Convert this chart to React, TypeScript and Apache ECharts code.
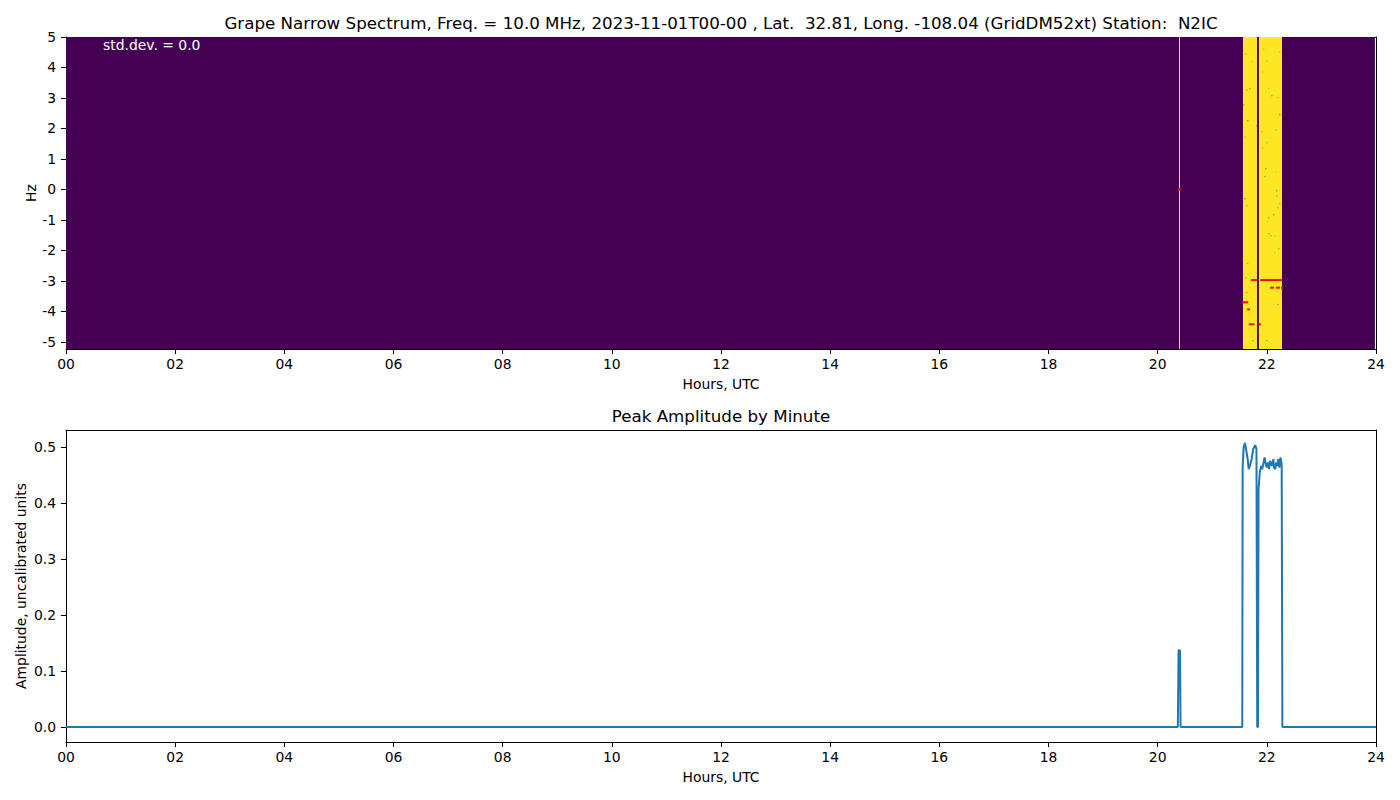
import React, { useEffect, useRef } from "react";
import * as echarts from "echarts";

// ---------- data ----------
const TITLE_TOP =
  "Grape Narrow Spectrum, Freq. = 10.0 MHz, 2023-11-01T00-00 , Lat.  32.81, Long. -108.04 (GridDM52xt) Station:  N2IC";
const TITLE_BOTTOM = "Peak Amplitude by Minute";
const STD_TEXT = "std.dev. = 0.0";

const hourTicks = [0, 2, 4, 6, 8, 10, 12, 14, 16, 18, 20, 22, 24];
const hzTicks = [-5, -4, -3, -2, -1, 0, 1, 2, 3, 4, 5];
const ampTicks = [0.0, 0.1, 0.2, 0.3, 0.4, 0.5];

// spectrogram bands: [startHour, endHour, lowHz, highHz, level]
const specBands: number[][] = [
  [0, 23.98, -5.23, 5, 0],
  [20.391, 20.409, -5.23, 5, 1],
  [21.563, 22.278, -5.23, 5, 1],
  [21.82, 21.855, -5.23, 5, 0],
];

// single-bin speckles: [hour, Hz, level]
const specSpeckles: number[][] = [
  [21.606, 4.44, 0.5], [21.716, 4.2, 0.75], [21.935, 4.61, 0.75], [21.99, 4.21, 0.75],
  [22.228, 4.51, 0.75], [21.917, 3.85, 0.75], [21.624, 3.26, 0.5], [21.679, 3.3, 0.5],
  [22.027, 3.3, 0.75], [22.082, 3.07, 0.4], [22.192, 3.02, 0.75], [21.807, 2.09, 0.5],
  [21.899, 1.89, 0.5], [22.155, 1.95, 0.5], [21.99, 1.53, 0.5], [21.917, 1.36, 0.5],
  [21.588, 1.72, 0.75], [21.972, 0.68, 0.25], [22.155, 0.58, 0.75], [21.954, 0.42, 0.5],
  [22.173, -0.04, 0.4], [22.173, -0.21, 0.5], [22.228, -0.47, 0.5], [22.192, -0.6, 0.5],
  [21.588, -0.3, 0.25], [21.624, -0.53, 0.5], [22.027, -0.93, 0.4], [22.009, -1.06, 0.75],
  [22.027, -1.45, 0.5], [22.064, -1.52, 0.5], [22.137, -1.52, 0.75], [22.137, -2.07, 0.75],
  [22.21, -1.94, 0.5], [21.642, -2.43, 0.75], [21.606, -2.89, 0.5], [21.624, -3.38, 0.5],
  [22.192, -3.77, 0.5], [21.734, -4.95, 0.5], [21.99, -4.95, 0.5], [21.569, 2.77, 0.25],
  [22.118, -0.83, 0.25], [21.642, 2.25, 0.25], [22.228, 2.45, 0.25],
];

// over-range marks: [startHour, endHour, Hz]
const specOver: number[][] = [
  [20.37, 20.42, 0.0],
  [21.71, 21.82, -2.97],
  [21.88, 22.28, -2.97],
  [22.06, 22.13, -3.22],
  [22.17, 22.24, -3.22],
  [22.26, 22.3, -3.22],
  [21.55, 21.66, -3.7],
  [21.64, 21.69, -3.93],
  [21.67, 21.77, -4.42],
  [21.84, 21.89, -4.42],
];

// peak amplitude by minute: [hour, amplitude]
const amplitude: number[][] = [
  [0, 0], [20.37, 0], [20.383, 0.137], [20.408, 0.137], [20.42, 0],
  [21.55, 0], [21.557, 0.463], [21.575, 0.499], [21.6, 0.507], [21.624, 0.493],
  [21.649, 0.478], [21.667, 0.46], [21.69, 0.466], [21.722, 0.478], [21.75, 0.496],
  [21.787, 0.503], [21.81, 0.496], [21.824, 0], [21.838, 0], [21.848, 0.423],
  [21.87, 0.454], [21.897, 0.466], [21.915, 0.46], [21.94, 0.472], [21.96, 0.481],
  [21.98, 0.469], [22.0, 0.463], [22.02, 0.472], [22.04, 0.46], [22.06, 0.475],
  [22.09, 0.466], [22.12, 0.478], [22.13, 0.463], [22.155, 0.46], [22.17, 0.472],
  [22.19, 0.466], [22.21, 0.478], [22.23, 0.463], [22.25, 0.481], [22.265, 0.472],
  [22.272, 0.47], [22.285, 0], [24, 0],
];

// ---------- styling helpers ----------
const viridis: [number, string][] = [
  [0, "#440154"], [0.25, "#3b528b"], [0.4, "#2c728e"], [0.5, "#21918c"],
  [0.75, "#5ec962"], [1, "#fde725"],
];
const OVER_COLOR = "#ff0000";
function levelColor(l: number): string {
  let best = viridis[0];
  for (const v of viridis) if (Math.abs(v[0] - l) < Math.abs(best[0] - l)) best = v;
  return best[1];
}

const FONT = "DejaVu Sans";
const TICK_FS = 13.9;
const TITLE_FS = 16.7;
const SPECKLE_W = 0.0185; // one time bin
const SPECKLE_H = 0.033; // one freq bin
const OVER_H = 0.066;

export default function App() {
  const ref = useRef<HTMLDivElement>(null);
  useEffect(() => {
    if (!ref.current) return;
    const chart = echarts.init(ref.current, undefined, { renderer: "svg" });

    // rects: [x0, x1, y0, y1, colorString]
    const rects: any[] = [];
    specBands.forEach((b) => rects.push([b[0], b[1], b[2], b[3], levelColor(b[4])]));
    specSpeckles.forEach((s) =>
      rects.push([s[0], s[0] + SPECKLE_W, s[1] - SPECKLE_H / 2, s[1] + SPECKLE_H / 2, levelColor(s[2])])
    );
    specOver.forEach((o) => rects.push([o[0], o[1], o[2] - OVER_H / 2, o[2] + OVER_H / 2, OVER_COLOR]));

    const axisTextStyle = { color: "#000", fontFamily: FONT, fontSize: TICK_FS };
    const hourFmt = (v: number) => String(Math.round(v)).padStart(2, "0");

    const xBase = (gridIndex: number) => ({
      type: "value",
      gridIndex,
      min: 0,
      max: 24,
      interval: 2,
      name: "Hours, UTC",
      nameLocation: "middle",
      nameGap: 28,
      nameMoveOverlap: false,
      nameTextStyle: axisTextStyle,
      axisLine: { show: true, onZero: false, lineStyle: { color: "#000", width: 1 } },
      axisTick: { show: true, length: 5, lineStyle: { color: "#000" }, customValues: hourTicks },
      axisLabel: { ...axisTextStyle, margin: 8, formatter: hourFmt, customValues: hourTicks },
      splitLine: { show: false },
    });
    const frameX = (gridIndex: number) => ({
      type: "value",
      gridIndex,
      position: "top",
      min: 0,
      max: 24,
      axisLine: { show: true, onZero: false, lineStyle: { color: "#000", width: 1 } },
      axisTick: { show: false },
      axisLabel: { show: false },
      splitLine: { show: false },
    });
    const frameY = (gridIndex: number, min: number, max: number) => ({
      type: "value",
      gridIndex,
      position: "right",
      min,
      max,
      axisLine: { show: true, onZero: false, lineStyle: { color: "#000", width: 1 } },
      axisTick: { show: false },
      axisLabel: { show: false },
      splitLine: { show: false },
    });

    chart.setOption({
      animation: false,
      backgroundColor: "#fff",
      grid: [
        { left: 66, top: 37, width: 1310, height: 312, containLabel: false },
        { left: 66, top: 430, width: 1310, height: 312, containLabel: false },
      ],
      xAxis: [xBase(0), xBase(1), frameX(0), frameX(1)],
      yAxis: [
        {
          type: "value",
          gridIndex: 0,
          min: -5.23,
          max: 5,
          name: "Hz",
          nameLocation: "middle",
          nameGap: 28,
          nameMoveOverlap: false,
          nameTextStyle: axisTextStyle,
          axisLine: { show: true, onZero: false, lineStyle: { color: "#000", width: 1 } },
          axisTick: { show: true, length: 5, lineStyle: { color: "#000" }, customValues: hzTicks },
          axisLabel: { ...axisTextStyle, margin: 10, customValues: hzTicks, formatter: (v: number) => String(Math.round(v)) },
          splitLine: { show: false },
        },
        {
          type: "value",
          gridIndex: 1,
          min: -0.027,
          max: 0.53,
          name: "Amplitude, uncalibrated units",
          nameLocation: "middle",
          nameGap: 38,
          nameMoveOverlap: false,
          nameTextStyle: axisTextStyle,
          axisLine: { show: true, onZero: false, lineStyle: { color: "#000", width: 1 } },
          axisTick: { show: true, length: 5, lineStyle: { color: "#000" }, customValues: ampTicks },
          axisLabel: { ...axisTextStyle, margin: 10, customValues: ampTicks, formatter: (v: number) => v.toFixed(1) },
          splitLine: { show: false },
        },
        frameY(0, -5.23, 5),
        frameY(1, -0.027, 0.53),
      ],
      series: [
        {
          type: "custom",
          xAxisIndex: 0,
          yAxisIndex: 0,
          clip: true,
          data: rects,
          encode: { x: [0, 1], y: [2, 3] },
          renderItem: (params: any, api: any) => {
            const r = rects[params.dataIndex];
            const p0 = api.coord([r[0], r[3]]);
            const p1 = api.coord([r[1], r[2]]);
            return {
              type: "rect",
              shape: {
                x: p0[0],
                y: p0[1],
                width: Math.max(p1[0] - p0[0], 1),
                height: Math.max(p1[1] - p0[1], 1),
              },
              style: { fill: r[4] },
            };
          },
          z: 1,
        },
        {
          type: "line",
          xAxisIndex: 1,
          yAxisIndex: 1,
          data: amplitude,
          showSymbol: false,
          symbol: "none",
          smooth: false,
          lineStyle: { color: "#1f77b4", width: 2 },
          clip: true,
          z: 2,
        },
      ],
      graphic: [
        {
          type: "text",
          x: 721,
          y: 23,
          style: {
            text: TITLE_TOP,
            fill: "#000",
            font: `${TITLE_FS}px "${FONT}"`,
            align: "center",
            verticalAlign: "middle",
          },
        },
        {
          type: "text",
          x: 721,
          y: 416,
          style: {
            text: TITLE_BOTTOM,
            fill: "#000",
            font: `${TITLE_FS}px "${FONT}"`,
            align: "center",
            verticalAlign: "middle",
          },
        },
        {
          type: "text",
          x: 103,
          y: 45,
          z: 100,
          style: {
            text: STD_TEXT,
            fill: "#fff",
            font: `${TICK_FS}px "${FONT}"`,
            align: "left",
            verticalAlign: "middle",
          },
        },
      ],
    });
    return () => chart.dispose();
  }, []);

  return (
    <div
      ref={ref}
      style={{ position: "fixed", left: 0, top: 0, width: 1400, height: 800, background: "#fff" }}
    />
  );
}
